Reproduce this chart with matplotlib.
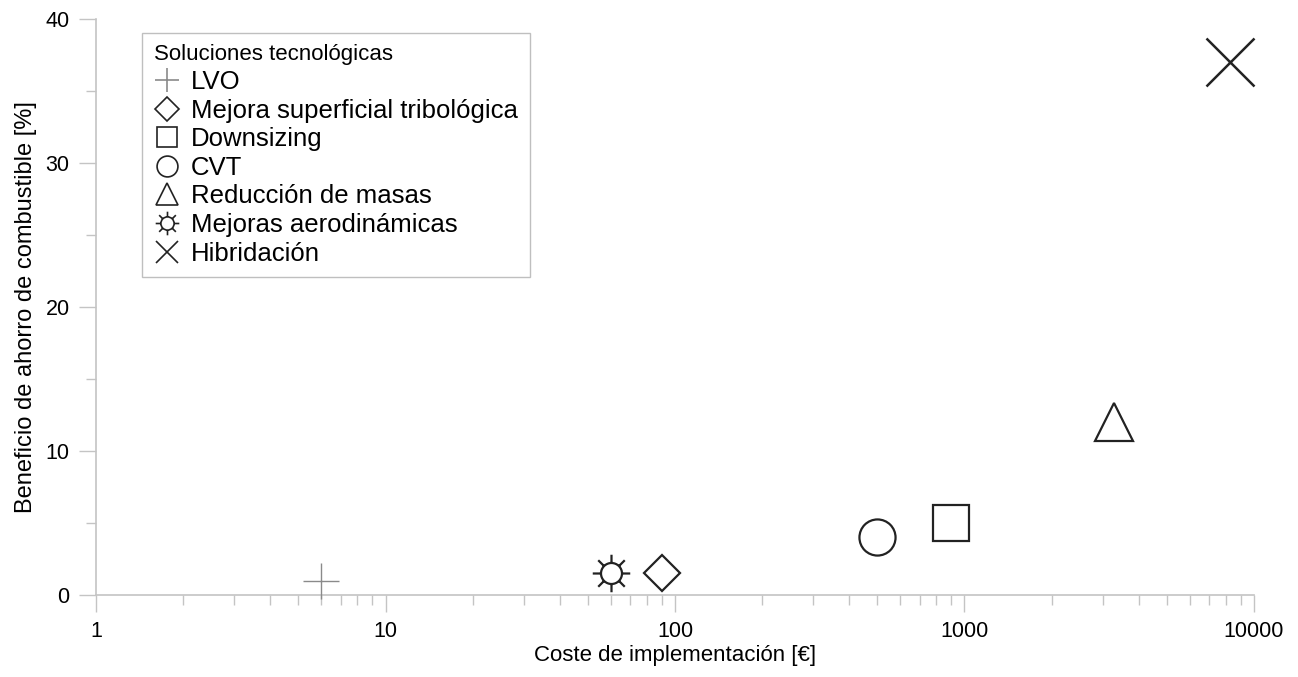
import numpy as np
import matplotlib.pyplot as plt
from matplotlib.path import Path
from matplotlib.lines import Line2D
from matplotlib.ticker import LogLocator, FixedLocator, MultipleLocator

plt.rcParams['font.family'] = ['Liberation Sans', 'DejaVu Sans']

# datos
soluciones = ['LVO', 'Mejora superficial tribológica', 'Downsizing', 'CVT',
              'Reducción de masas', 'Mejoras aerodinámicas', 'Hibridación']
coste = [6, 90, 900, 500, 3300, 60, 8300]
ahorro = [1, 1.5, 5, 4, 12, 1.5, 37]

# marcador "sol": circulo con 8 rayos
circ = Path.circle((0, 0), 0.56)
rayos = []
for a in np.arange(8) * np.pi / 4:
    rayos.append(Path([[0.56 * np.cos(a), 0.56 * np.sin(a)],
                       [1.0 * np.cos(a), 1.0 * np.sin(a)]],
                      [Path.MOVETO, Path.LINETO]))
sol = Path.make_compound_path(circ, *rayos)

estilos = {
    'LVO': dict(marker='+', ms=26, mew=1.0, color='#8a8a8a'),
    'Mejora superficial tribológica': dict(marker='D', ms=18, mew=1.6, color='#222222'),
    'Downsizing': dict(marker='s', ms=26, mew=1.6, color='#222222'),
    'CVT': dict(marker='o', ms=26, mew=1.6, color='#222222'),
    'Reducción de masas': dict(marker='^', ms=28, mew=1.6, color='#222222'),
    'Mejoras aerodinámicas': dict(marker=sol, ms=27, mew=1.6, color='#222222'),
    'Hibridación': dict(marker='x', ms=34, mew=1.8, color='#222222'),
}
leyenda_ms = {'LVO': 17, 'Mejora superficial tribológica': 12, 'Downsizing': 15,
              'CVT': 15, 'Reducción de masas': 16, 'Mejoras aerodinámicas': 17,
              'Hibridación': 16}

fig = plt.figure(figsize=(12.98, 6.77), dpi=100)
ax = fig.add_axes([0.074, 0.121, 0.892, 0.851])

handles = []
for s, x, y in zip(soluciones, coste, ahorro):
    st = estilos[s]
    ax.plot([x], [y], linestyle='none', marker=st['marker'], markersize=st['ms'],
            markeredgewidth=st['mew'], markeredgecolor=st['color'],
            markerfacecolor='white', clip_on=False, zorder=3)
    handles.append(Line2D([], [], linestyle='none', marker=st['marker'],
                          markersize=leyenda_ms[s], markeredgewidth=1.2,
                          markeredgecolor=st['color'], markerfacecolor='white',
                          label=s))

ax.set_xscale('log')
ax.set_xlim(1, 10000)
ax.set_ylim(0, 40)
ax.xaxis.set_major_locator(FixedLocator([1, 10, 100, 1000, 10000]))
ax.set_xticklabels(['1', '10', '100', '1000', '10000'])
ax.xaxis.set_minor_locator(LogLocator(base=10, subs=np.arange(2, 10), numticks=20))
ax.yaxis.set_major_locator(MultipleLocator(10))
ax.yaxis.set_minor_locator(MultipleLocator(5))

gris = '#c4c4c4'
for lado in ['top', 'right']:
    ax.spines[lado].set_visible(False)
for lado in ['left', 'bottom']:
    ax.spines[lado].set_color(gris)
    ax.spines[lado].set_linewidth(1.2)
ax.tick_params(which='major', length=12, width=1.0, color=gris, labelsize=15.5, pad=7)
ax.tick_params(which='minor', length=7, width=1.0, color=gris)
ax.tick_params(axis='y', which='major', pad=7)

ax.set_xlabel('Coste de implementación [€]', fontsize=16, labelpad=2)
ax.set_ylabel('Beneficio de ahorro de combustible [%]', fontsize=17, labelpad=6)

leg = ax.legend(handles=handles, title='Soluciones tecnológicas', loc='upper left',
                bbox_to_anchor=(0.040, 0.976), fontsize=18.5, title_fontsize=16,
                frameon=True, fancybox=False, edgecolor='#b0b0b0',
                handlelength=1.0, handletextpad=0.45, labelspacing=0.18,
                borderpad=0.45, borderaxespad=0, alignment='left')
leg.get_frame().set_linewidth(1.0)

fig.savefig('out.png', dpi=100)
